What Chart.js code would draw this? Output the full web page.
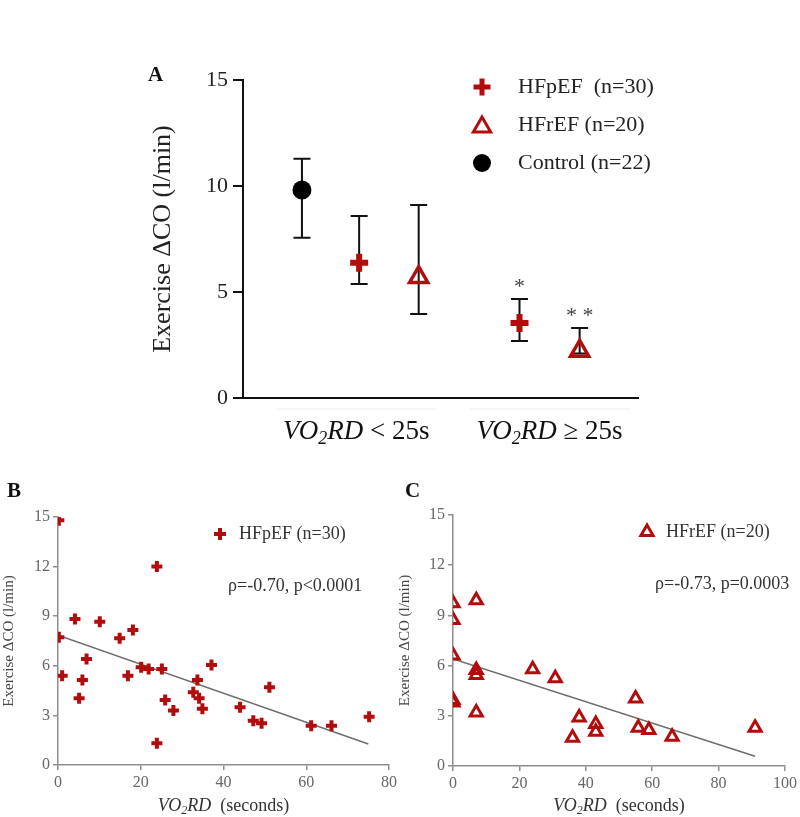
<!DOCTYPE html>
<html>
<head>
<meta charset="utf-8">
<script src="https://cdn.jsdelivr.net/npm/chart.js@4.4.1/dist/chart.umd.min.js"></script>
<style>
  html, body { margin: 0; padding: 0; background: #fff; }
  #wrap { position: relative; width: 800px; height: 817px; overflow: hidden; }
  canvas { position: absolute; }
  .tag { position: absolute; font: bold 21px "Liberation Serif", serif; color: #111; line-height: 24px; }
</style>
</head>
<body>
<div id="wrap">
  <canvas id="chartA" width="800" height="450" style="left:0;top:0"></canvas>
  <canvas id="chartB" width="400" height="367" style="left:0;top:450px"></canvas>
  <canvas id="chartC" width="404" height="367" style="left:396px;top:450px"></canvas>
  <div class="tag" style="left:148px;top:62px">A</div>
  <div class="tag" style="left:7px;top:478px">B</div>
  <div class="tag" style="left:405px;top:478px">C</div>
</div>
<script>
'use strict';

const FONT = '"Liberation Serif", "Times New Roman", serif';
const RED = '#b30c0c';

// ---- panel A : mean and error bars per VO2RD group ----
const groupTails = [' < 25s', ' \u2265 25s'];
const groupCenters = [1.92, 5.2];
const controlX = [1.0];
const controlMean = [9.81];
const controlLow = [7.56];
const controlHigh = [11.29];
const hfpefX = [1.97, 4.69];
const hfpefMean = [6.38, 3.54];
const hfpefLow = [5.38, 2.69];
const hfpefHigh = [8.58, 4.67];
const hfpefStars = ['', '*'];
const hfrefX = [2.98, 5.71];
const hfrefMean = [5.7, 2.22];
const hfrefLow = [3.96, 2.1];
const hfrefHigh = [9.1, 3.3];
const hfrefStars = ['', '* *'];
const legendA = ['HFpEF  (n=30)', 'HFrEF (n=20)', 'Control (n=22)'];
const yTicksA = [0, 5, 10, 15];

// ---- panel B : HFpEF scatter ----
const hfpefVo2rd = [0.2, 0.2, 1.0, 4.1, 5.1, 5.9, 6.9, 10.1, 14.9, 16.9, 18.1, 20.1, 21.9, 23.9, 23.9,
  25.1, 25.9, 27.9, 32.7, 33.7, 34.1, 34.9, 37.1, 44.0, 47.2, 49.2, 51.1, 61.2, 66.1, 75.2];
const hfpefCO = [14.8, 7.72, 5.4, 8.83, 4.03, 5.14, 6.41, 8.67, 7.66, 5.4, 8.17, 5.91, 5.81, 12.0, 1.31,
  5.81, 3.93, 3.29, 4.4, 5.14, 4.03, 3.4, 6.05, 3.49, 2.68, 2.52, 4.7, 2.38, 2.38, 2.92];
const hfpefFitX = [0, 75];
const hfpefFitY = [7.85, 1.27];
const xTicksB = [0, 20, 40, 60, 80];

// ---- panel C : HFrEF scatter ----
const hfrefVo2rd = [0, 0, 0, 0, 0, 7, 7, 7, 7, 24, 30.8, 36, 38, 43, 43, 55, 55.8, 59, 66, 91];
const hfrefCO = [9.72, 8.73, 6.6, 3.95, 3.8, 9.9, 5.74, 5.44, 3.2, 5.78, 5.24, 1.69, 2.9, 2.51, 2.05,
  4.04, 2.29, 2.15, 1.75, 2.29];
const hfrefFitX = [0, 91];
const hfrefFitY = [6.4, 0.58];
const xTicksC = [0, 20, 40, 60, 80, 100];
const yTicksBC = [0, 3, 6, 9, 12, 15];

Chart.defaults.font.family = FONT;

function pts(xs, ys) {
  return xs.map((x, i) => ({ x: x, y: ys[i] }));
}

function marker(ctx, style, x, y, r, lw, color) {
  ctx.save();
  ctx.strokeStyle = color;
  ctx.fillStyle = color;
  ctx.lineWidth = lw;
  ctx.beginPath();
  if (style === 'cross') {
    ctx.moveTo(x - r, y); ctx.lineTo(x + r, y);
    ctx.moveTo(x, y - r); ctx.lineTo(x, y + r);
    ctx.stroke();
  } else if (style === 'triangle') {
    let a = 0;
    for (let k = 0; k < 3; k++) {
      const px = x + Math.sin(a) * r, py = y - Math.cos(a) * r;
      if (k === 0) ctx.moveTo(px, py); else ctx.lineTo(px, py);
      a += Math.PI * 2 / 3;
    }
    ctx.closePath();
    ctx.stroke();
  } else {
    ctx.arc(x, y, r, 0, Math.PI * 2);
    ctx.fill();
  }
  ctx.restore();
}

// italic VO2RD with subscript, followed by upright tail text
function drawVO2RD(ctx, cx, cy, size, tail, color) {
  const parts = [
    { t: 'VO', f: 'italic ' + size + 'px ' + FONT, dy: 0 },
    { t: '2', f: 'italic ' + Math.round(size * 0.68) + 'px ' + FONT, dy: size * 0.28 },
    { t: 'RD', f: 'italic ' + size + 'px ' + FONT, dy: 0 },
    { t: tail, f: size + 'px ' + FONT, dy: 0 }
  ];
  ctx.save();
  ctx.fillStyle = color;
  ctx.textBaseline = 'middle';
  ctx.textAlign = 'left';
  let w = 0;
  parts.forEach(p => { ctx.font = p.f; p.w = ctx.measureText(p.t).width; w += p.w; });
  let x = cx - w / 2;
  parts.forEach(p => { ctx.font = p.f; ctx.fillText(p.t, x, cy + p.dy); x += p.w; });
  ctx.restore();
}

// error bars + significance stars for panel A
const errorBars = {
  id: 'errorBars',
  beforeDatasetsDraw(chart) {
    const ctx = chart.ctx;
    const yScale = chart.scales.y;
    chart.data.datasets.forEach((ds, i) => {
      if (!ds.errLow) return;
      const meta = chart.getDatasetMeta(i);
      meta.data.forEach((el, j) => {
        const top = yScale.getPixelForValue(ds.errHigh[j]);
        const bot = yScale.getPixelForValue(ds.errLow[j]);
        ctx.save();
        ctx.strokeStyle = '#111';
        ctx.lineWidth = 2;
        ctx.beginPath();
        ctx.moveTo(el.x, top); ctx.lineTo(el.x, bot);
        ctx.moveTo(el.x - 8.5, top); ctx.lineTo(el.x + 8.5, top);
        ctx.moveTo(el.x - 8.5, bot); ctx.lineTo(el.x + 8.5, bot);
        ctx.stroke();
        if (ds.stars && ds.stars[j]) {
          ctx.fillStyle = '#444';
          ctx.font = '22px ' + FONT;
          ctx.textAlign = 'center';
          ctx.textBaseline = 'alphabetic';
          ctx.fillText(ds.stars[j], el.x, top - 6);
        }
        ctx.restore();
      });
    });
  },
  afterDraw(chart) {
    const ctx = chart.ctx;
    const xs = chart.scales.x;
    const ca = chart.chartArea;
    // faint group brackets and group labels
    groupCenters.forEach((g, i) => {
      ctx.save();
      ctx.strokeStyle = '#ececec';
      ctx.lineWidth = 1;
      ctx.beginPath();
      ctx.moveTo(xs.getPixelForValue(g - 1.35), ca.bottom + 11);
      ctx.lineTo(xs.getPixelForValue(g + 1.35), ca.bottom + 11);
      ctx.stroke();
      ctx.restore();
      drawVO2RD(ctx, xs.getPixelForValue(g), ca.bottom + 34, 27, groupTails[i], '#111');
    });
    // legend
    const lx = ca.left + 239, ly = ca.top + 7;
    marker(ctx, 'cross', lx, ly, 8.5, 5, RED);
    marker(ctx, 'triangle', lx, ly + 40, 10, 3, RED);
    marker(ctx, 'circle', lx, ly + 76, 9, 0, '#000');
    ctx.save();
    ctx.fillStyle = '#222';
    ctx.font = '22px ' + FONT;
    ctx.textBaseline = 'middle';
    legendA.forEach((t, i) => ctx.fillText(t, lx + 36, ly + [0, 38, 76][i]));
    ctx.restore();
  }
};

new Chart(document.getElementById('chartA'), {
  type: 'scatter',
  data: {
    datasets: [
      { label: legendA[2], data: pts(controlX, controlMean), errLow: controlLow, errHigh: controlHigh,
        pointStyle: 'circle', pointRadius: 9.5, pointBackgroundColor: '#000', pointBorderColor: '#000', pointBorderWidth: 0 },
      { label: legendA[0], data: pts(hfpefX, hfpefMean), errLow: hfpefLow, errHigh: hfpefHigh, stars: hfpefStars,
        pointStyle: 'cross', pointRadius: 9, pointBorderColor: RED, pointBorderWidth: 6 },
      { label: legendA[1], data: pts(hfrefX, hfrefMean), errLow: hfrefLow, errHigh: hfrefHigh, stars: hfrefStars,
        pointStyle: 'triangle', pointRadius: 10.5, pointBorderColor: RED, pointBackgroundColor: 'rgba(255,255,255,0)', pointBorderWidth: 3.5 }
    ]
  },
  options: {
    responsive: false,
    animation: false,
    layout: { padding: { left: 143, right: 162, top: 80, bottom: 0 } },
    plugins: { legend: { display: false }, tooltip: { enabled: false } },
    scales: {
      x: {
        type: 'linear', min: 0, max: 6.7,
        ticks: { display: false },
        grid: { display: false },
        border: { color: '#111', width: 2 },
        afterFit: s => { s.height = 52; }
      },
      y: {
        min: yTicksA[0], max: yTicksA[yTicksA.length - 1],
        ticks: { stepSize: yTicksA[1] - yTicksA[0], color: '#222', font: { size: 22 }, padding: 5 },
        grid: { drawOnChartArea: false, tickLength: 10, color: '#111', lineWidth: 2 },
        border: { color: '#111', width: 2 },
        title: { display: true, text: 'Exercise \u0394CO (l/min)', color: '#222', font: { size: 26 }, padding: { top: 5, bottom: 0 } },
        afterFit: s => { s.width = 100; }
      }
    }
  },
  plugins: [errorBars]
});

function scatterPanel(id, xs, ys, fitX, fitY, xTicks, style, radius, bw, legendText, rhoText, legendDx) {
  const notes = {
    id: 'notes' + id,
    afterDraw(chart) {
      const ctx = chart.ctx;
      const ca = chart.chartArea;
      const cx = (ca.left + ca.right) / 2;
      drawVO2RD(ctx, cx, 356, 18, '  (seconds)', '#333');
      const lx = ca.left + legendDx, ly = ca.top + 17;
      marker(ctx, style, lx, ly, style === 'cross' ? 6 : 7, style === 'cross' ? 4 : 3, RED);
      ctx.save();
      ctx.fillStyle = '#333';
      ctx.font = '18px ' + FONT;
      ctx.textBaseline = 'middle';
      ctx.fillText(legendText, lx + 19, ly);
      ctx.fillText(rhoText, lx + 8, ly + 52);
      ctx.restore();
    }
  };
  const axisGray = '#8e8e8e';
  return new Chart(document.getElementById(id), {
    type: 'scatter',
    data: {
      datasets: [
        { label: legendText, data: pts(xs, ys), pointStyle: style, pointRadius: radius,
          pointBorderColor: RED, pointBackgroundColor: 'rgba(255,255,255,0)', pointBorderWidth: bw },
        { label: 'fit', data: pts(fitX, fitY), showLine: true, pointRadius: 0,
          borderColor: '#6e6e6e', borderWidth: 1.5 }
      ]
    },
    options: {
      responsive: false,
      animation: false,
      layout: { padding: { left: 0, right: id === 'chartB' ? 9 : 13, top: id === 'chartB' ? 67 : 65, bottom: 0 } },
      plugins: { legend: { display: false }, tooltip: { enabled: false } },
      scales: {
        x: {
          type: 'linear', min: xTicks[0], max: xTicks[xTicks.length - 1],
          ticks: { stepSize: xTicks[1] - xTicks[0], color: '#666', font: { size: 16 }, padding: 3, maxRotation: 0 },
          grid: { drawOnChartArea: false, tickLength: 5, color: axisGray, lineWidth: 1.5 },
          border: { color: axisGray, width: 1.5 },
          afterFit: s => { s.height = id === 'chartB' ? 52 : 51; }
        },
        y: {
          min: yTicksBC[0], max: yTicksBC[yTicksBC.length - 1],
          ticks: { stepSize: yTicksBC[1] - yTicksBC[0], color: '#666', font: { size: 16 }, padding: 3 },
          grid: { drawOnChartArea: false, tickLength: 5, color: axisGray, lineWidth: 1.5 },
          border: { color: axisGray, width: 1.5 },
          title: { display: true, text: 'Exercise \u0394CO (l/min)', color: '#444', font: { size: 15 }, padding: 0 },
          afterFit: s => { s.width = id === 'chartB' ? 58 : 57; }
        }
      }
    },
    plugins: [notes]
  });
}

scatterPanel('chartB', hfpefVo2rd, hfpefCO, hfpefFitX, hfpefFitY, xTicksB, 'cross', 5.5, 4,
  'HFpEF (n=30)', '\u03c1=-0.70, p<0.0001', 162);
scatterPanel('chartC', hfrefVo2rd, hfrefCO, hfrefFitX, hfrefFitY, xTicksC, 'triangle', 7, 3,
  'HFrEF (n=20)', '\u03c1=-0.73, p=0.0003', 194);
</script>
</body>
</html>
